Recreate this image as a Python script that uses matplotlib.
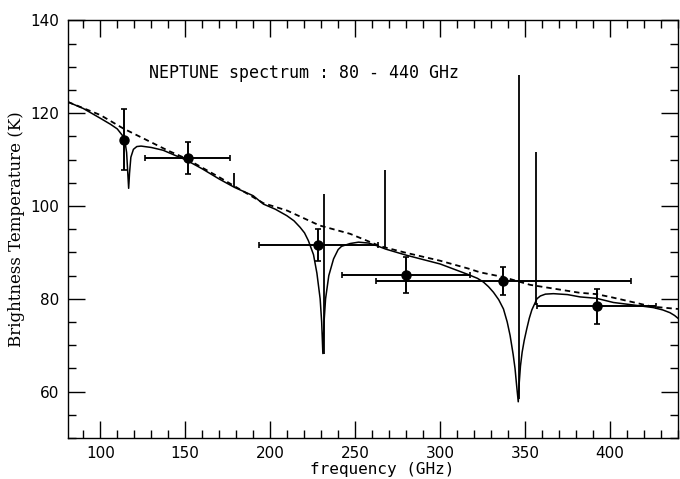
import numpy as np
import matplotlib
matplotlib.use("Agg")
import matplotlib.pyplot as plt
from matplotlib.ticker import MultipleLocator

# -----------------------------
# Data
# -----------------------------
# dashed continuum
cont_freq = [81, 100, 113.5, 140, 150, 170, 196, 210, 229, 247, 265, 280,
             300, 316.7, 323.5, 337, 353, 382, 392, 400, 425, 440]
cont_temp = [122.4, 119.6, 116.7, 111.9, 110.3, 106.2, 100.6, 99.0, 95.8, 94.0,
             91.3, 89.9, 88.2, 86.5, 85.7, 84.7, 83.0, 81.3, 81.0, 80.4, 78.3, 77.8]

# solid model spectrum
model_freq = [81, 90, 100, 106, 110, 113, 114.5, 115.5, 116.2, 116.7, 117.2, 118,
              119.5, 121.5, 124, 130, 137, 144, 150, 160, 170, 179, 190, 196,
              203, 209.8, 214, 217.6, 220.2, 222.5, 225.5, 227.5, 229.4, 230.3,
              231, 231.7, 232.6, 234.5, 237.3, 240, 242, 247, 252, 258, 263,
              268, 280, 300, 316.7, 322, 325.5, 328.5, 331.4, 334.5, 337.3,
              339.5, 341.2, 343, 344.1, 345, 346, 346.6, 347.3, 348.3, 349.5,
              351, 352.5, 354, 355.5, 357, 359, 362, 366.7, 375, 382.4, 392,
              402, 415, 425.5, 431, 435.3, 438, 441]
model_temp = [122.4, 121.0, 118.9, 117.6, 116.6, 115.2, 114.0, 111.5, 107.0, 103.8,
              107.0, 110.5, 112.2, 112.8, 112.9, 112.6, 112.0, 110.9, 110.0, 108.0,
              105.8, 104.0, 102.2, 100.4, 99.3, 97.9, 96.8, 95.4, 94.2, 92.5,
              89.5, 85.5, 80.0, 75.0, 68.2, 75.0, 80.0, 85.0, 88.6, 90.6, 91.3,
              91.9, 92.2, 92.0, 91.4, 90.7, 89.4, 87.5, 85.2, 84.4, 83.6, 82.6,
              81.4, 79.8, 77.8, 75.0, 72.1, 68.0, 65.0, 61.5, 57.8, 62.0, 65.5,
              68.5, 71.0, 73.5, 75.8, 77.6, 78.8, 80.0, 80.6, 81.0, 81.1, 80.9,
              80.4, 80.1, 79.2, 78.6, 78.1, 77.6, 77.0, 76.4, 75.5]

# narrow emission cores
spike_freq = [178.9, 231.6, 267.6, 346.4, 356.3]
spike_base = [104.0, 68.2, 91.0, 58.5, 78.7]
spike_top = [107.2, 102.6, 107.8, 128.2, 111.7]

# measurements
obs_freq = [114.1, 151.5, 228.4, 279.8, 337.3, 392.2]
obs_temp = [114.3, 110.3, 91.6, 85.2, 83.8, 78.4]
obs_terr = [6.5, 3.5, 3.4, 3.9, 3.0, 3.8]
obs_ferr = [0, 25.0, 35.0, 37.6, 75.0, 35.0]

# -----------------------------
# Plot
# -----------------------------
fig = plt.figure(figsize=(6.8, 4.79), dpi=100)
ax = fig.add_axes([0.1, 0.0856, 0.897, 0.872])

ax.plot(cont_freq, cont_temp, color="black", lw=1.3, ls=(0, (3, 2.2)))
ax.plot(model_freq, model_temp, color="black", lw=1.1)
ax.vlines(spike_freq, spike_base, spike_top, color="black", lw=1.3)

ax.errorbar(obs_freq, obs_temp, yerr=obs_terr, fmt="o", color="black",
            ms=6.5, elinewidth=1.4, capsize=2.5, capthick=1.2)
has_x = [i for i, e in enumerate(obs_ferr) if e > 0]
ax.errorbar([obs_freq[i] for i in has_x], [obs_temp[i] for i in has_x],
            xerr=[obs_ferr[i] for i in has_x], fmt="none", ecolor="black",
            elinewidth=1.4, capsize=2.5, capthick=1.2)

ax.set_xlim(81, 440)
ax.set_ylim(50, 140)

ax.xaxis.set_major_locator(MultipleLocator(50))
ax.xaxis.set_minor_locator(MultipleLocator(10))
ax.yaxis.set_major_locator(MultipleLocator(20))
ax.yaxis.set_minor_locator(MultipleLocator(5))
ax.tick_params(which="both", direction="in", top=True, right=True, width=1.0)
ax.tick_params(which="major", length=12, labelsize=11, pad=6)
ax.tick_params(which="minor", length=5.5)
for lab in ax.get_xticklabels() + ax.get_yticklabels():
    lab.set_family("DejaVu Sans")
for s in ax.spines.values():
    s.set_linewidth(1.0)

ax.set_xlabel("frequency (GHz)", family="DejaVu Sans Mono", fontsize=11.5)
ax.xaxis.set_label_coords(0.515, -0.058)
ax.set_ylabel("Brightness Temperature (K)", family="DejaVu Serif", fontsize=12, labelpad=4)

ax.text(128.5, 128.6, "NEPTUNE spectrum : 80 - 440 GHz", family="DejaVu Sans Mono",
        fontsize=12, ha="left", va="center")

fig.savefig("out.png", dpi=100)
